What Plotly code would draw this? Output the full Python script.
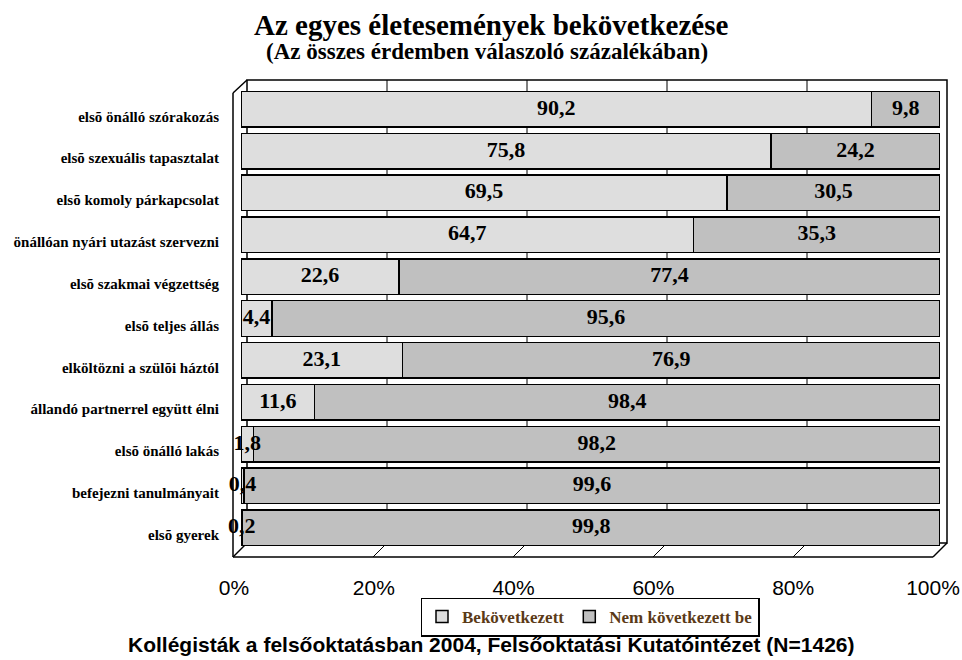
import plotly.graph_objects as go

categories = [
    "elsõ önálló szórakozás",
    "elsõ szexuális tapasztalat",
    "elsõ komoly párkapcsolat",
    "önállóan nyári utazást szervezni",
    "elsõ szakmai végzettség",
    "elsõ teljes állás",
    "elköltözni a szülõi háztól",
    "állandó partnerrel együtt élni",
    "elsõ önálló lakás",
    "befejezni tanulmányait",
    "elsõ gyerek",
]
happened = [90.2, 75.8, 69.5, 64.7, 22.6, 4.4, 23.1, 11.6, 1.8, 0.4, 0.2]
not_happened = [9.8, 24.2, 30.5, 35.3, 77.4, 95.6, 76.9, 98.4, 98.2, 99.6, 99.8]
series_names = ["Bekövetkezett", "Nem következett be"]
tick_vals = [0, 20, 40, 60, 80, 100]
tick_text = ["0%", "20%", "40%", "60%", "80%", "100%"]

W, H = 962, 660
ML, MR, MT, MB = 241, 22, 86, 109
PW, PH = W - ML - MR, H - MT - MB


def px(xp):
    return (xp - ML) / PW


def py(yp):
    return (H - MB - yp) / PH


def fmt(v):
    return f"{v:.1f}".replace(".", ",")


totals = [a + b for a, b in zip(happened, not_happened)]
h_norm = [a / t * 100 for a, t in zip(happened, totals)]
n_norm = [b / t * 100 for b, t in zip(not_happened, totals)]

colors = ["#dedede", "#c0c0c0"]
val_font = dict(family="Liberation Serif", size=22, color="black", weight="bold")

fig = go.Figure()
fig.add_trace(go.Bar(
    y=categories, x=happened, orientation="h", name=series_names[0],
    marker=dict(color=colors[0], line=dict(color="black", width=1.5)),
    hoverinfo="skip",
))
fig.add_trace(go.Bar(
    y=categories, x=not_happened, orientation="h", name=series_names[1],
    marker=dict(color=colors[1], line=dict(color="black", width=1.5)),
    hoverinfo="skip",
))
# value labels centred on each segment
fig.add_trace(go.Scatter(
    y=categories, x=[v / 2 for v in h_norm], mode="text",
    text=[fmt(v) for v in happened], showlegend=False, cliponaxis=False,
    textfont=val_font, hoverinfo="skip",
))
fig.add_trace(go.Scatter(
    y=categories, x=[a + b / 2 for a, b in zip(h_norm, n_norm)], mode="text",
    text=[fmt(v) for v in not_happened], showlegend=False, cliponaxis=False,
    textfont=val_font, hoverinfo="skip",
))

# 3D frame decoration
line = dict(color="black", width=1.5)
shapes = []
back_l, back_r, back_t, back_b = 247, 947, 80, 543
front_l, front_r, front_t, front_b = 233, 933, 93, 557
shapes.append(dict(type="rect", xref="paper", yref="paper", layer="below",
                   x0=px(back_l), x1=px(back_r), y0=py(back_b), y1=py(back_t),
                   line=line, fillcolor="white"))
shapes.append(dict(type="line", xref="paper", yref="paper", x0=px(front_l), x1=px(front_l),
                   y0=py(front_t), y1=py(front_b), line=line))
shapes.append(dict(type="line", xref="paper", yref="paper", layer="below", x0=px(front_l), x1=px(back_l),
                   y0=py(front_t), y1=py(back_t), line=line))
shapes.append(dict(type="line", xref="paper", yref="paper", x0=px(front_l), x1=px(front_r),
                   y0=py(front_b), y1=py(front_b), line=line))
shapes.append(dict(type="line", xref="paper", yref="paper", x0=px(front_r), x1=px(back_r),
                   y0=py(front_b), y1=py(back_b), line=line))
shapes.append(dict(type="line", xref="paper", yref="paper", layer="below", x0=px(front_l), x1=px(back_l),
                   y0=py(front_b), y1=py(back_b), line=line))
for t in tick_vals[1:-1]:
    xb = back_l + t / 100 * (back_r - back_l)
    xf = front_l + t / 100 * (front_r - front_l)
    shapes.append(dict(type="line", xref="paper", yref="paper", layer="below",
                       x0=px(xb), x1=px(xb), y0=py(back_b), y1=py(back_t),
                       line=dict(color="black", width=1)))
    shapes.append(dict(type="line", xref="paper", yref="paper", layer="below",
                       x0=px(xf), x1=px(xb), y0=py(front_b), y1=py(back_b),
                       line=dict(color="black", width=1)))

fig.update_layout(
    width=W, height=H,
    margin=dict(l=ML, r=MR, t=MT, b=MB, autoexpand=False),
    paper_bgcolor="white", plot_bgcolor="rgba(0,0,0,0)",
    barmode="stack", barnorm="percent", bargap=0.15,
    shapes=shapes,
    showlegend=True,
    legend=dict(
        orientation="h", x=px(590), xanchor="center", y=py(617), yanchor="middle",
        bordercolor="black", borderwidth=1.5, bgcolor="white",
        font=dict(family="Liberation Serif", size=17, color="#5b3a17", weight="bold"),
        itemwidth=30, traceorder="normal", tracegroupgap=0,
    ),
    xaxis=dict(
        range=[0, 100], tickvals=tick_vals, ticktext=tick_text,
        showgrid=False, zeroline=False, showline=False, ticks="",
        tickfont=dict(family="Liberation Sans", size=21, color="black"),
        ticklabelshift=-7, ticklabelstandoff=22, fixedrange=True, automargin=False,
    ),
    yaxis=dict(
        categoryorder="array", categoryarray=categories, autorange="reversed",
        showgrid=False, zeroline=False, showline=False, ticks="",
        tickfont=dict(family="Liberation Serif", size=15, color="black", weight="bold"),
        ticklabelstandoff=21, ticklabelshift=-7, fixedrange=True, automargin=False,
    ),
    annotations=[
        dict(text="<b>Az egyes életesemények bekövetkezése</b>", xref="paper", yref="paper",
             x=px(491), y=py(25), xanchor="center", yanchor="middle", showarrow=False,
             font=dict(family="Liberation Serif", size=29, color="black")),
        dict(text="<b>(Az összes érdemben válaszoló százalékában)</b>", xref="paper", yref="paper",
             x=px(487), y=py(51), xanchor="center", yanchor="middle", showarrow=False,
             font=dict(family="Liberation Serif", size=23, color="black")),
        dict(text="<b>Kollégisták a felsőoktatásban 2004, Felsőoktatási Kutatóintézet (N=1426)</b>",
             xref="paper", yref="paper",
             x=px(491), y=py(644), xanchor="center", yanchor="middle", showarrow=False,
             font=dict(family="Liberation Sans", size=21, color="black")),
    ],
)

fig.write_html(
    "out.html",
    config={"displayModeBar": False},
    post_script="document.body.style.margin='0px';document.body.style.overflow='hidden';",
)
